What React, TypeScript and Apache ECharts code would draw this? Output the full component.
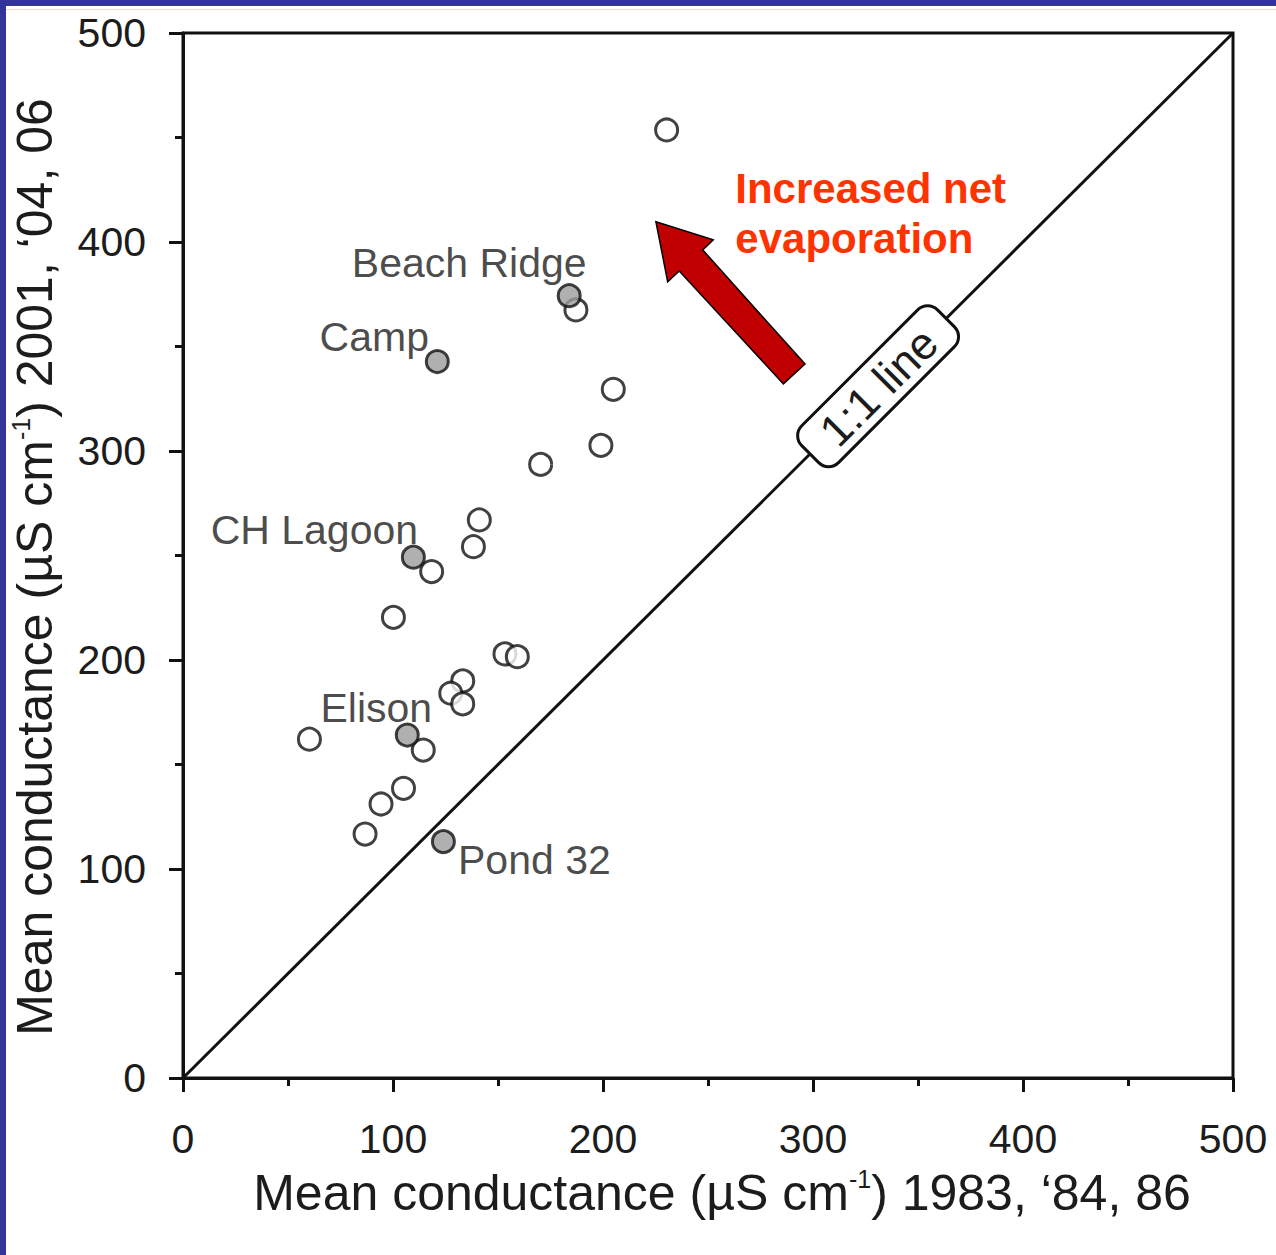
import React, { useEffect, useRef } from "react";
import * as echarts from "echarts";

// Open circles: [1983/84/86 mean, 2001/04/06 mean]
const openPoints: number[][] = [
  [230.3, 453.6], [187.1, 367.5], [204.9, 329.5], [199.0, 302.7], [170.3, 293.6],
  [141.1, 267.0], [138.3, 254.2], [118.4, 242.3], [100.2, 220.4], [153.3, 202.9],
  [159.2, 201.6], [133.2, 190.0], [127.5, 184.1], [133.2, 179.0], [60.2, 162.1],
  [114.4, 156.9], [105.0, 138.6], [94.3, 131.1], [86.7, 116.7],
];

// Named (grey) sites
const siteNames = ["Beach Ridge", "Camp", "CH Lagoon", "Elison", "Pond 32"];
const siteX = [183.9, 121.1, 109.7, 106.8, 124.0];
const siteY = [374.3, 342.8, 249.2, 164.1, 113.1];
const siteLabelOffsets: number[][] = [[-100, -33], [-63, -25], [-99, -27], [-31, -27], [91, 18]];

const tickValues = [0, 100, 200, 300, 400, 500];
const oneToOne = [[0, 0], [500, 500]];
const xTitleYears = "1983, ‘84, 86";
const yTitleYears = "2001, ‘04, 06";

const FONT = "'Liberation Sans', Arial, Helvetica, sans-serif";
const INK = "#111111";
const TXT = "#1c1c1c";

export default function App() {
  const ref = useRef<HTMLDivElement>(null);
  useEffect(() => {
    document.body.style.margin = "0";
    const chart = echarts.init(ref.current!, null, { renderer: "svg" });
    const axisCommon = {
      type: "value",
      min: tickValues[0],
      max: tickValues[tickValues.length - 1],
      interval: 100,
      axisLine: { show: true, lineStyle: { color: INK, width: 3 } },
      axisTick: { show: true, inside: false, length: 14, lineStyle: { color: INK, width: 3 } },
      minorTick: { show: true, splitNumber: 2, length: 8, lineStyle: { color: INK, width: 3 } },
      splitLine: { show: false },
    };
    chart.setOption({
      animation: false,
      backgroundColor: "#ffffff",
      grid: {
        left: 183, top: 33, right: 43, bottom: 177,
        show: true, borderColor: INK, borderWidth: 3, backgroundColor: "transparent",
        outerBoundsMode: "none", containLabel: false,
      },
      xAxis: {
        ...axisCommon,
        axisLabel: { fontSize: 41, fontFamily: FONT, color: TXT, margin: 40 },
      },
      yAxis: {
        ...axisCommon,
        axisLabel: { fontSize: 41, fontFamily: FONT, color: TXT, margin: 37 },
      },
      series: [
        {
          type: "line",
          data: oneToOne,
          symbol: "none",
          lineStyle: { color: INK, width: 3 },
          z: 1,
          silent: true,
        },
        {
          type: "scatter",
          data: openPoints,
          symbol: "circle",
          symbolSize: 22,
          itemStyle: { color: "#ffffff", borderColor: INK, borderWidth: 3 },
          z: 3,
        },
        {
          type: "scatter",
          symbol: "circle",
          symbolSize: 22,
          itemStyle: { color: "#9c9c9c", borderColor: INK, borderWidth: 3 },
          z: 4,
          data: siteNames.map((n, i) => ({
            name: n,
            value: [siteX[i], siteY[i]],
            label: {
              show: true,
              formatter: n,
              position: "inside",
              offset: siteLabelOffsets[i],
              fontSize: 41,
              fontFamily: FONT,
              color: TXT,
            },
          })),
        },
      ],
    });

    const px = (p: number[]) => chart.convertToPixel({ gridIndex: 0 }, p) as number[];
    const arrowData: number[][] = [
      [225.2, 409.7], [252.5, 401.0], [247.5, 396.2], [296.2, 341.6],
      [285.9, 332.1], [236.3, 386.1], [230.8, 381.0],
    ];
    const labelCenter = px([331, 331]);
    const txtAnchor = px([263, 413.4]);
    const titleRich = {
      a: { fontSize: 50, fontFamily: FONT, fill: TXT, lineHeight: 54 },
      s: { fontSize: 25, fontFamily: FONT, fill: TXT, lineHeight: 27, verticalAlign: "top" },
    };
    const titleText = (years: string) => `{a|Mean conductance (µS cm}{s|-1}{a|) ${years}}`;
    chart.setOption({
      graphic: [
        { type: "rect", shape: { x: 0, y: 0, width: 1276, height: 6 }, style: { fill: "#333399" }, z: 100, silent: true },
        { type: "rect", shape: { x: 0, y: 0, width: 6, height: 1255 }, style: { fill: "#333399" }, z: 100, silent: true },
        { type: "rect", shape: { x: 6, y: 9, width: 1270, height: 1 }, style: { fill: "#ffd6c8" }, z: 100, silent: true },
        {
          type: "text",
          x: 722,
          y: 1193,
          z: 60,
          style: { text: titleText(xTitleYears), rich: titleRich, align: "center", verticalAlign: "middle" },
        },
        {
          type: "text",
          x: 35,
          y: 567,
          rotation: Math.PI / 2,
          z: 60,
          style: { text: titleText(yTitleYears), rich: titleRich, align: "center", verticalAlign: "middle" },
        },
        {
          type: "polygon",
          shape: { points: arrowData.map(px) },
          style: { fill: "#c00000", stroke: "#000000", lineWidth: 1.5 },
          z: 50,
        },
        {
          type: "text",
          x: txtAnchor[0],
          y: txtAnchor[1],
          style: {
            text: "Increased net\nevaporation",
            fontSize: 42,
            fontWeight: "bold",
            fontFamily: FONT,
            fill: "#ff3300",
            lineHeight: 50,
            align: "left",
            verticalAlign: "middle",
          },
          z: 50,
        },
        {
          type: "group",
          x: labelCenter[0],
          y: labelCenter[1],
          rotation: Math.PI / 4,
          z: 50,
          children: [
            {
              type: "rect",
              z: 50,
              shape: { x: -96, y: -26, width: 192, height: 52, r: 14 },
              style: { fill: "#ffffff", stroke: INK, lineWidth: 3 },
            },
            {
              type: "text",
              z: 51,
              x: 0,
              y: 1,
              style: {
                text: "1:1 line",
                fontSize: 45,
                fontFamily: FONT,
                fill: TXT,
                align: "center",
                verticalAlign: "middle",
              },
            },
          ],
        },
      ],
    });
    return () => chart.dispose();
  }, []);
  return <div ref={ref} style={{ position: "fixed", left: 0, top: 0, width: 1276, height: 1255 }} />;
}
